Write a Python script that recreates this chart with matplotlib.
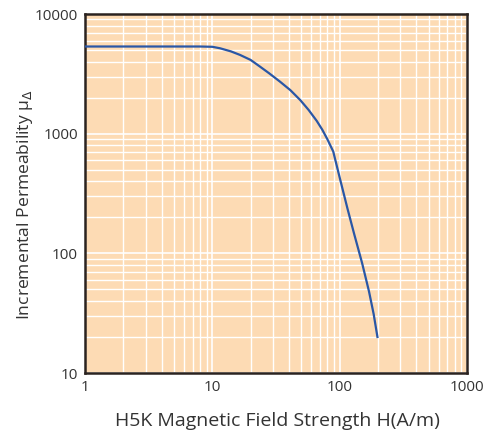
import matplotlib
matplotlib.use('Agg')
import matplotlib.pyplot as plt
from matplotlib.ticker import LogLocator, NullFormatter

# H5K incremental permeability vs field strength
field = [1, 8, 10, 11.5, 14, 16.5, 20, 23.7, 28, 34, 41, 49, 57, 66, 73, 80, 89,
         100, 115, 130, 150, 170, 185, 198]
perm = [5350, 5350, 5320, 5170, 4870, 4550, 4130, 3630, 3190, 2720, 2310, 1910,
        1580, 1280, 1080, 900, 710, 430, 238, 145, 83, 48, 31, 20]

x_ticks = [1, 10, 100, 1000]
x_labels = ['1', '10', '100', '1000']
y_ticks = [10, 100, 1000, 10000]
y_labels = ['10', '100', '1000', '10000']


def main():
    plt.rcParams['font.family'] = ['Open Sans', 'DejaVu Sans']
    plt.rcParams['mathtext.fontset'] = 'dejavusans'

    fig = plt.figure(figsize=(4.97, 4.36), dpi=100)
    ax = fig.add_axes([85 / 497, 1 - 373 / 436, 382 / 497, 359 / 436])
    ax.set_facecolor('#fddbb4')

    ax.set_xscale('log')
    ax.set_yscale('log')
    ax.set_xlim(1, 1000)
    ax.set_ylim(10, 10000)

    ax.set_xticks(x_ticks, x_labels)
    ax.set_yticks(y_ticks, y_labels)
    ax.xaxis.set_minor_locator(LogLocator(base=10, subs=range(2, 10)))
    ax.yaxis.set_minor_locator(LogLocator(base=10, subs=range(2, 10)))
    ax.xaxis.set_minor_formatter(NullFormatter())
    ax.yaxis.set_minor_formatter(NullFormatter())

    ax.grid(True, which='major', color='white', linewidth=1.2)
    ax.grid(True, which='minor', color='white', linewidth=1.0)
    ax.set_axisbelow(True)

    ax.plot(field, perm, color='#2a57a6', linewidth=1.6, zorder=3)

    ax.tick_params(which='both', length=0, labelsize=11, colors='#333333', pad=5)
    for s in ax.spines.values():
        s.set_color('#2b2320')
        s.set_linewidth(1.8)

    ax.set_xlabel('H5K Magnetic Field Strength H(A/m)', fontsize=14, color='#333333')
    ax.set_ylabel(r'Incremental Permeability μ$_{\Delta}$', fontsize=12.6, color='#333333')
    ax.xaxis.set_label_coords(0.503, -0.134)
    ax.yaxis.set_label_coords(-0.157, 0.47)
    ax.xaxis.label.set_va('center')
    ax.yaxis.label.set_va('center')

    fig.savefig('out.png', dpi=100)


if __name__ == '__main__':
    main()
